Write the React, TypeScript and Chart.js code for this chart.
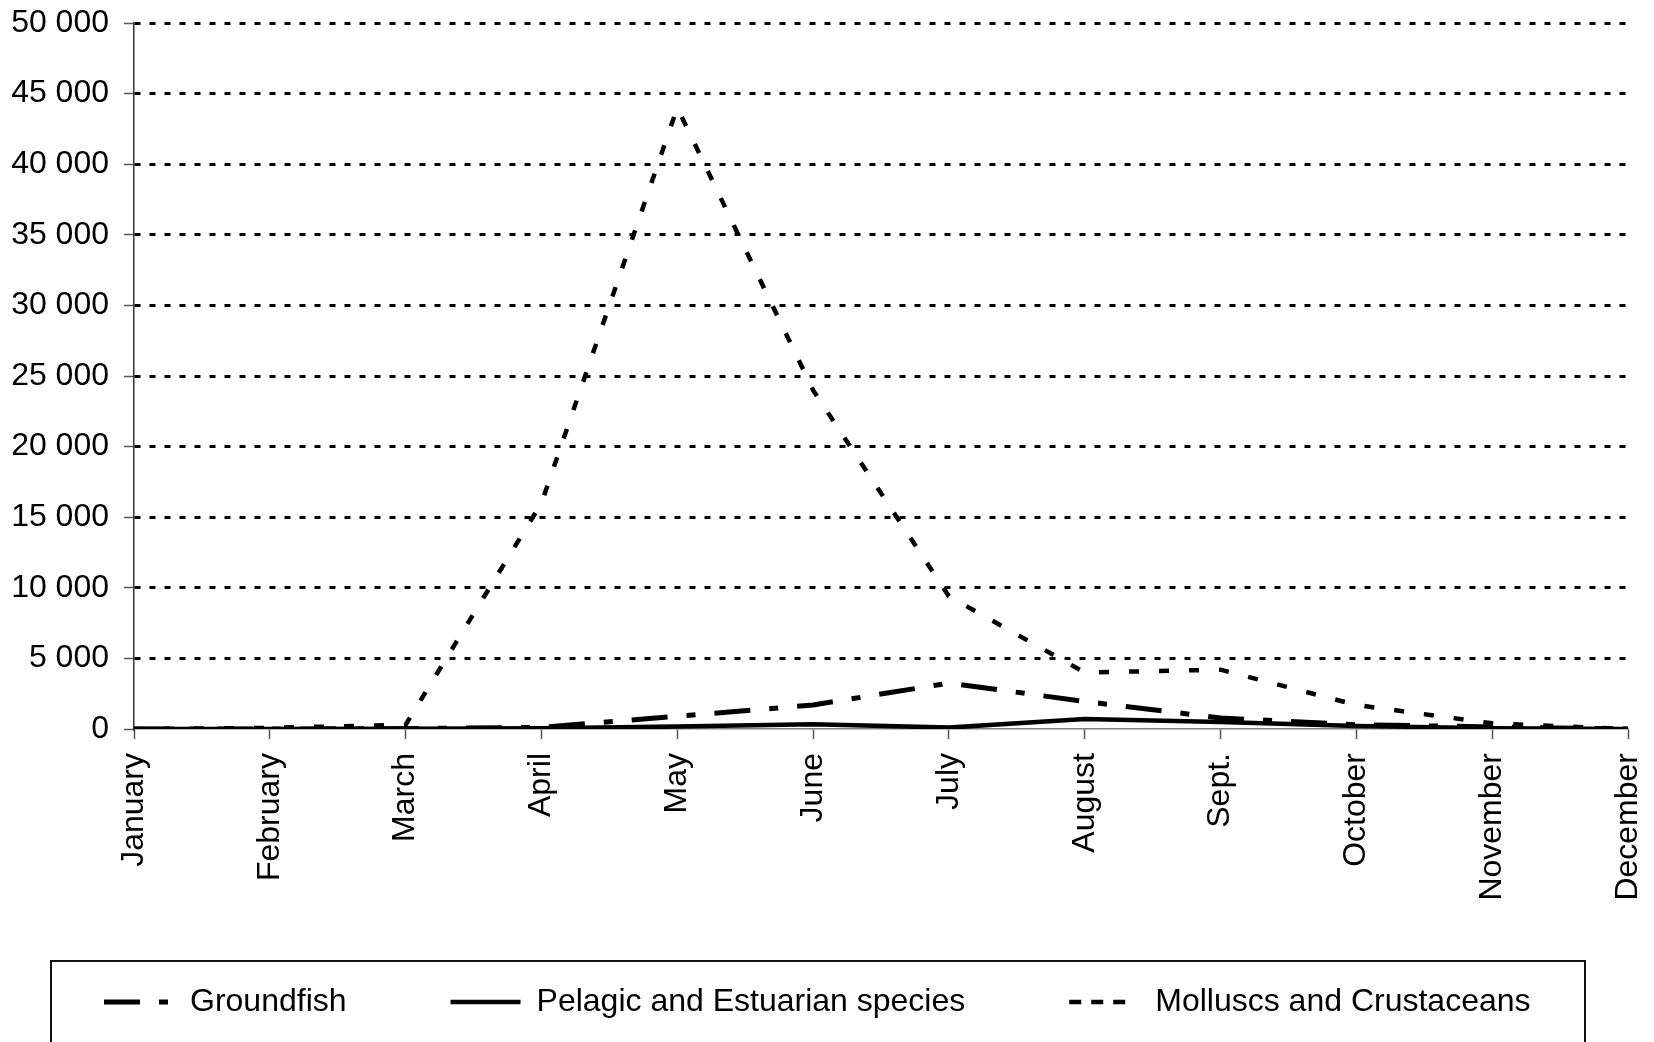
import React, { useEffect, useRef } from "react";
import { Chart, registerables } from "chart.js";

Chart.register(...registerables);

const months = [
  "January", "February", "March", "April", "May", "June",
  "July", "August", "Sept.", "October", "November", "December",
];

const groundfish = [0, 0, 30, 120, 900, 1700, 3250, 1950, 780, 300, 150, 0];
const pelagic = [0, 0, 20, 60, 170, 340, 100, 700, 500, 220, 60, 0];
const molluscs = [0, 80, 300, 16000, 44000, 24000, 9400, 4000, 4200, 1700, 400, 0];

const seriesNames = ["Groundfish", "Pelagic and Estuarian species", "Molluscs and Crustaceans"];

const yMax = 50000;
const yStep = 5000;

const FONT = "'Liberation Sans', Arial, Helvetica, sans-serif";
const FONT_SIZE = 32;

function formatThousands(v: number): string {
  return String(v).replace(/\B(?=(\d{3})+(?!\d))/g, " ");
}

const legendFrame = {
  id: "legendFrame",
  afterDraw(chart: any) {
    const lg = chart.legend;
    if (!lg) return;
    const pad = lg.options.labels.padding;
    const size = lg.options.labels.font.size;
    const textY = lg.top + pad + size / 2;
    const ctx = chart.ctx;
    ctx.save();
    ctx.strokeStyle = "#111";
    ctx.lineWidth = 2;
    ctx.setLineDash([]);
    ctx.strokeRect(51, textY - 41, 1534, 200);
    ctx.restore();
  },
};

export default function App() {
  const ref = useRef<HTMLCanvasElement | null>(null);

  useEffect(() => {
    if (!ref.current) return;
    const styles = [
      { borderDash: [36, 19, 9, 19], width: 5, legendDash: [0, 27, 36, 19, 9, 1000] },
      { borderDash: [], width: 4.5, legendDash: [0, 27, 80, 1000] },
      { borderDash: [10, 20], width: 4.5, legendDash: [0, 27, 12, 10, 12, 10, 12, 1000] },
    ];
    const values = [groundfish, pelagic, molluscs];
    const chart = new Chart(ref.current, {
      type: "line",
      data: {
        labels: months,
        datasets: values.map((d, i) => ({
          label: seriesNames[i],
          data: d,
          borderColor: "#000",
          backgroundColor: "#000",
          borderWidth: styles[i].width,
          borderDash: styles[i].borderDash,
          borderCapStyle: "butt",
          pointRadius: 0,
          tension: 0,
          fill: false,
        })),
      },
      options: {
        responsive: false,
        animation: false,
        layout: { padding: { top: 23, right: 26, bottom: 14, left: 0 } },
        plugins: {
          tooltip: { enabled: false },
          legend: {
            position: "bottom",
            align: "start",
            labels: {
              usePointStyle: true,
              pointStyleWidth: 97,
              padding: 77,
              color: "#000",
              font: { family: FONT, size: FONT_SIZE },
              generateLabels: () =>
                seriesNames.map((n, i) => ({
                  text: n,
                  datasetIndex: i,
                  pointStyle: "line",
                  lineWidth: styles[i].width,
                  lineDash: styles[i].legendDash,
                  strokeStyle: "#000",
                  fillStyle: "#000",
                  fontColor: "#000",
                  hidden: false,
                })),
            },
          },
        },
        scales: {
          x: {
            afterFit: (s: any) => {
              s.height = 180;
              s.paddingLeft = 0;
              s.paddingRight = 0;
            },
            grid: {
              drawOnChartArea: false,
              drawTicks: true,
              tickLength: 10,
              tickColor: "#555",
              tickWidth: 1.5,
            },
            border: { color: "#808080", width: 1.5 },
            ticks: {
              autoSkip: false,
              minRotation: 90,
              maxRotation: 90,
              padding: 14,
              color: "#000",
              font: { family: FONT, size: FONT_SIZE },
            },
          },
          y: {
            min: 0,
            max: yMax,
            afterFit: (s: any) => {
              s.width = 134;
              s.paddingTop = 0;
              s.paddingBottom = 0;
            },
            grid: {
              color: (c: any) => (c.tick && c.tick.value === 0 ? "rgba(0,0,0,0)" : "#000"),
              lineWidth: 3,
              drawTicks: true,
              tickLength: 10,
              tickColor: "#555",
              tickWidth: 1.5,
              tickBorderDash: [],
            },
            border: { color: "#333", width: 1.5, dash: [6, 9] },
            ticks: {
              stepSize: yStep,
              padding: 15,
              color: "#000",
              font: { family: FONT, size: FONT_SIZE },
              callback: (v: any) => formatThousands(Number(v)),
            },
          },
        },
      },
      plugins: [legendFrame],
    });
    return () => chart.destroy();
  }, []);

  return (
    <div style={{ position: "absolute", left: 0, top: 0, width: 1654, height: 1042, background: "#fff" }}>
      <canvas ref={ref} width={1654} height={1042} />
    </div>
  );
}
